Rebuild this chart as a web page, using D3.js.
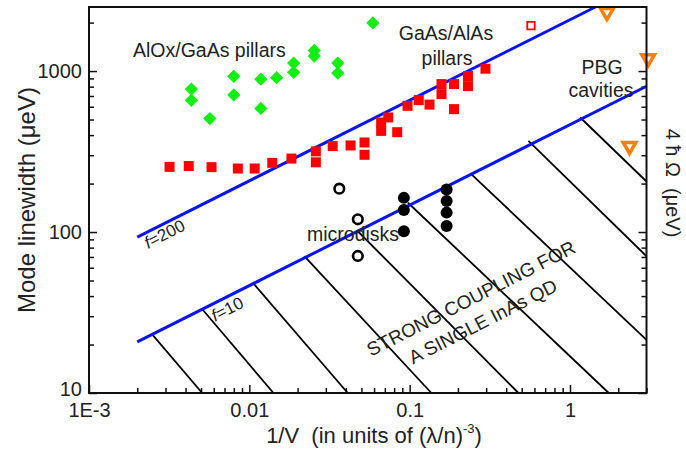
<!DOCTYPE html>
<html>
<head>
<meta charset="utf-8">
<script src="https://cdn.jsdelivr.net/npm/d3@7"></script>
<style>
    body { margin: 0; background: #fff; }
    text { font-family: "Liberation Sans", Arial, sans-serif; fill: #222; }
</style>
</head>
<body>
<div id="chart"></div>
<script>
// axis settings
const xDomain = [0.001, 3];
const yDomain = [10, 2500];
const xMajor = [0.001, 0.01, 0.1, 1];
const xMajorLabels = ["1E-3", "0.01", "0.1", "1"];
const yMajor = [10, 100, 1000];
const yMajorLabels = ["10", "100", "1000"];

// AlOx/GaAs pillars (green diamonds): [1/V, linewidth]
const alox = [[0.00435, 773], [0.00435, 658], [0.00567, 507], [0.0080, 927], [0.0080, 711],
    [0.0118, 891], [0.0118, 586], [0.0148, 910], [0.0189, 1122], [0.0189, 982],
    [0.0254, 1343], [0.0254, 1239], [0.0356, 1122], [0.0356, 972], [0.059, 1990]];

// GaAs/AlAs pillars (red squares)
const gaas = [[0.00318, 254], [0.00419, 257], [0.00581, 253], [0.00848, 248], [0.0108, 248],
    [0.0139, 269], [0.0183, 286], [0.026, 317], [0.026, 271], [0.0331, 342], [0.0428, 345],
    [0.0523, 360], [0.0523, 302], [0.0664, 479], [0.0664, 425], [0.0735, 515], [0.0836, 417],
    [0.097, 608], [0.114, 660], [0.133, 619], [0.158, 830], [0.158, 719], [0.189, 830],
    [0.189, 580], [0.231, 931], [0.231, 806], [0.297, 1034]];
const gaasOpen = [[0.571, 1916]];

// microdisks
const diskOpen = [[0.0364, 186], [0.0475, 120], [0.0475, 71]];
const diskFilled = [[0.092, 163], [0.092, 137], [0.092, 101],
    [0.17, 184], [0.17, 156], [0.17, 132], [0.17, 109]];

// PBG cavities (orange triangles)
const pbg = [[1.7, 2320], [3.07, 1200], [2.35, 342]];

// blue lines f=200 and f=10
const lineF200 = [[0.002, 93], [1.44, 2500]];
const lineF10 = [[0.002, 20.8], [3, 805]];

// black hatching lines of the strong coupling region
const hatch = [
    [[0.00247, 23.2], [0.00508, 10]],
    [[0.00512, 32.9], [0.01414, 10]],
    [[0.01053, 48.3], [0.0411, 10]],
    [[0.02204, 70.9], [0.1366, 10]],
    [[0.0470, 102.2], [0.4768, 10]],
    [[0.0976, 152], [1.745, 10]],
    [[0.243, 228], [3, 21.4]],
    [[0.5506, 368], [3, 70.7]],
    [[1.158, 514.6], [3, 206]]
];

const W = 686, H = 453;
const margin = {top: 7, right: 39.5, bottom: 60, left: 89};

const svg = d3.select("#chart")
    .append("svg")
    .attr("width", W)
    .attr("height", H);

const x = d3.scaleLog().domain(xDomain).range([margin.left, W - margin.right]);
const y = d3.scaleLog().domain(yDomain).range([H - margin.bottom, margin.top]);

const line = d3.line().x(d => x(d[0])).y(d => y(d[1]));

// minor ticks (inward)
svg.append("g")
    .attr("transform", "translate(0," + y.range()[0] + ")")
    .call(d3.axisBottom(x).tickValues(x.ticks().filter(v => !xMajor.includes(v)))
        .tickSize(-5).tickFormat(""));
svg.append("g")
    .attr("transform", "translate(" + x.range()[0] + ",0)")
    .call(d3.axisLeft(y).tickValues(y.ticks().filter(v => !yMajor.includes(v)))
        .tickSize(-5).tickFormat(""));
svg.append("g")
    .attr("transform", "translate(" + x.range()[1] + ",0)")
    .call(d3.axisRight(y).tickValues(y.ticks().filter(v => !yMajor.includes(v)))
        .tickSize(-5).tickFormat(""));

// major ticks + labels
svg.append("g")
    .attr("class", "xaxis")
    .attr("transform", "translate(0," + y.range()[0] + ")")
    .call(d3.axisBottom(x).tickValues(xMajor).tickSize(-8).tickPadding(10)
        .tickFormat((d, i) => xMajorLabels[i]));
svg.append("g")
    .attr("class", "yaxis")
    .attr("transform", "translate(" + x.range()[0] + ",0)")
    .call(d3.axisLeft(y).tickValues(yMajor).tickSize(-8).tickPadding(7)
        .tickFormat((d, i) => yMajorLabels[i]));
svg.append("g")
    .attr("transform", "translate(" + x.range()[1] + ",0)")
    .call(d3.axisRight(y).tickValues(yMajor).tickSize(-8).tickFormat(""));

svg.selectAll(".domain").remove();
svg.selectAll(".tick line").attr("stroke", "#111").attr("stroke-width", 1.5);
svg.selectAll(".xaxis text, .yaxis text")
    .style("font-size", "20px")
    .style("font-family", "'Liberation Sans', Arial, sans-serif")
    .attr("fill", "#222");
// the "10" label sits a little higher than its tick in the original
svg.selectAll(".yaxis .tick text").filter(d => d === 10).attr("dy", "0.12em");

// hatching
svg.append("g")
    .selectAll("path")
    .data(hatch)
    .join("path")
    .attr("d", line)
    .attr("fill", "none")
    .attr("stroke", "#000")
    .attr("stroke-width", 1.8);

// blue lines
svg.append("g")
    .selectAll("path")
    .data([lineF200, lineF10])
    .join("path")
    .attr("d", line)
    .attr("fill", "none")
    .attr("stroke", "#0a14ee")
    .attr("stroke-width", 3);

// markers
const sym = (type, size) => d3.symbol(type, size)();

svg.append("g")
    .selectAll("path")
    .data(alox)
    .join("path")
    .attr("d", sym(d3.symbolSquare, 88))
    .attr("transform", d => "translate(" + x(d[0]) + "," + y(d[1]) + ") rotate(45)")
    .attr("fill", "#11ee11");

svg.append("g")
    .selectAll("path")
    .data(gaas)
    .join("path")
    .attr("d", sym(d3.symbolSquare, 100))
    .attr("transform", d => "translate(" + x(d[0]) + "," + y(d[1]) + ")")
    .attr("fill", "#ff0000");

svg.append("g")
    .selectAll("path")
    .data(gaasOpen)
    .join("path")
    .attr("d", sym(d3.symbolSquare, 56))
    .attr("transform", d => "translate(" + x(d[0]) + "," + y(d[1]) + ")")
    .attr("fill", "#fff")
    .attr("stroke", "#ff0000")
    .attr("stroke-width", 1.8);

svg.append("g")
    .selectAll("circle")
    .data(diskOpen)
    .join("circle")
    .attr("cx", d => x(d[0]))
    .attr("cy", d => y(d[1]))
    .attr("r", 4.8)
    .attr("fill", "#fff")
    .attr("stroke", "#000")
    .attr("stroke-width", 2.6);

svg.append("g")
    .selectAll("circle")
    .data(diskFilled)
    .join("circle")
    .attr("cx", d => x(d[0]))
    .attr("cy", d => y(d[1]))
    .attr("r", 6)
    .attr("fill", "#000");

svg.append("g")
    .selectAll("path")
    .data(pbg)
    .join("path")
    .attr("d", sym(d3.symbolTriangle, 70))
    .attr("transform", d => "translate(" + x(d[0]) + "," + y(d[1]) + ") rotate(180)")
    .attr("fill", "#fff")
    .attr("stroke", "#ff8000")
    .attr("stroke-width", 3.5)
    .attr("stroke-linejoin", "miter");

// frame
svg.append("rect")
    .attr("x", x.range()[0])
    .attr("y", y.range()[1])
    .attr("width", x.range()[1] - x.range()[0])
    .attr("height", y.range()[0] - y.range()[1])
    .attr("fill", "none")
    .attr("stroke", "#111")
    .attr("stroke-width", 2);

// axis titles
svg.append("text")
    .attr("transform", "translate(26," + ((y.range()[0] + y.range()[1]) / 2) + ") rotate(-90)")
    .attr("text-anchor", "middle")
    .attr("dominant-baseline", "central")
    .style("font-size", "24px")
    .text("Mode linewidth (μeV)");

const xt = svg.append("text")
    .attr("x", 374)
    .attr("y", 443)
    .attr("text-anchor", "middle")
    .style("font-size", "22px");
xt.append("tspan").text("1/V\u00a0\u00a0(in units of (λ/n)");
xt.append("tspan").attr("dy", -10).style("font-size", "13px").text("-3");
xt.append("tspan").attr("dy", 10).text(")");

svg.append("text")
    .attr("transform", "translate(673,183) rotate(90)")
    .attr("text-anchor", "middle")
    .attr("dominant-baseline", "central")
    .style("font-size", "20px")
    .text("4 ħ Ω\u00a0\u00a0(μeV)");

// annotations
const note = (tx, ty, s, anchor) => svg.append("text")
    .attr("x", tx).attr("y", ty)
    .attr("text-anchor", anchor || "start")
    .style("font-size", "19.5px")
    .text(s);

note(133, 57, "AlOx/GaAs pillars");
note(446, 40, "GaAs/AlAs", "middle");
note(447, 65, "pillars", "middle");
note(602, 74, "PBG", "middle");
note(601, 97, "cavities", "middle");
note(307, 241, "microdisks");

const fLabel = (tx, ty, s) => {
    const t = svg.append("text")
        .attr("transform", "translate(" + tx + "," + ty + ") rotate(-27)")
        .style("font-size", "17px");
    t.append("tspan").style("font-style", "italic").text("f");
    t.append("tspan").text(s);
};
fLabel(148, 249, "=200");
fLabel(215, 322, "=10");

const strong = svg.append("g")
    .attr("transform", "translate(477,310) rotate(-27)");
strong.append("text")
    .attr("y", -13)
    .attr("text-anchor", "middle")
    .attr("dominant-baseline", "central")
    .style("font-size", "19px")
    .text("STRONG COUPLING FOR");
strong.append("text")
    .attr("y", 13)
    .attr("text-anchor", "middle")
    .attr("dominant-baseline", "central")
    .style("font-size", "19px")
    .text("A SINGLE InAs QD");
</script>
</body>
</html>
